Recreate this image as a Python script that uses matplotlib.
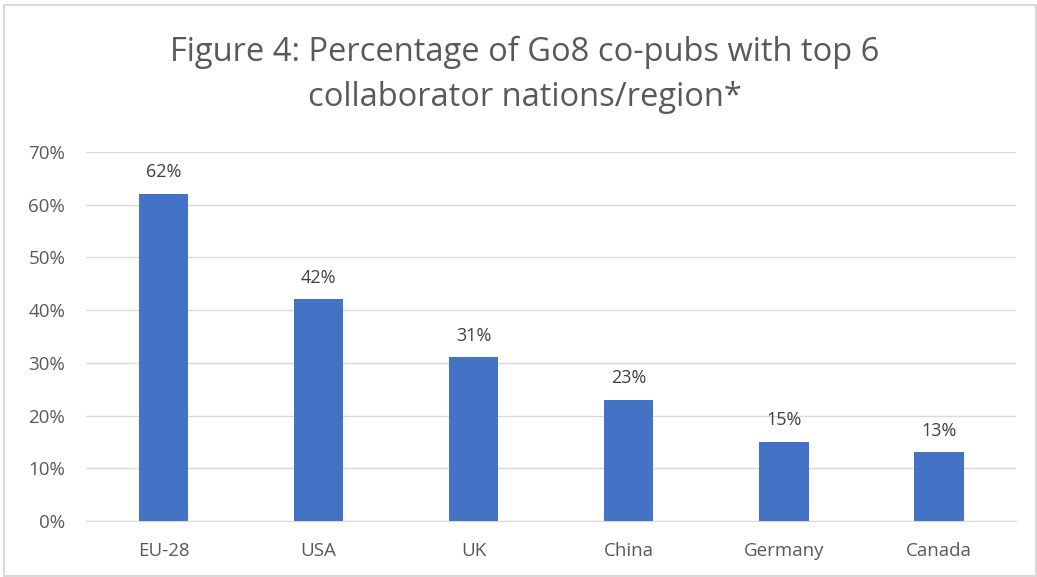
import matplotlib
matplotlib.use("Agg")
import matplotlib.pyplot as plt
from matplotlib.patches import Rectangle

categories = ["EU-28", "USA", "UK", "China", "Germany", "Canada"]
values = [62, 42, 31, 23, 15, 13]
yticks = [0, 10, 20, 30, 40, 50, 60, 70]

plt.rcParams['font.family'] = ['Open Sans', 'DejaVu Sans']
txt = '#595959'

fig = plt.figure(figsize=(10.37, 5.77), dpi=100)
ax = fig.add_axes([0.083, 0.097, 0.897, 0.64])
x = range(len(categories))
ax.bar(x, values, width=0.32, color='#4472C4', zorder=3)
for xi, v in zip(x, values):
    ax.annotate(f"{v}%", (xi, v), xytext=(0, 9), textcoords='offset points',
                ha='center', va='bottom', fontsize=13, color='#404040')
ax.set_xlim(-0.5, len(categories) - 0.5)
ax.set_ylim(0, 70)
ax.set_yticks(yticks)
ax.set_yticklabels([f"{t}%" for t in yticks])
ax.set_xticks(list(x))
ax.set_xticklabels(categories)
ax.tick_params(axis='both', length=0, labelsize=13.5, colors=txt)
ax.tick_params(axis='y', pad=15)
ax.tick_params(axis='x', pad=15)
ax.grid(axis='y', color='#d9d9d9', linewidth=1, zorder=0)
for s in ['top', 'right', 'left']:
    ax.spines[s].set_visible(False)
ax.spines['bottom'].set_color('#d9d9d9')
fig.text(0.506, 0.870, "Figure 4: Percentage of Go8 co-pubs with top 6\ncollaborator nations/region*",
         ha='center', va='center', fontsize=23.5, color=txt, linespacing=1.5)
fig.patches.append(Rectangle((0.004, 0.002), 0.995, 0.99, transform=fig.transFigure, fill=False,
                             edgecolor='#d9d9d9', linewidth=1.5))
fig.savefig("out.png", dpi=100)
